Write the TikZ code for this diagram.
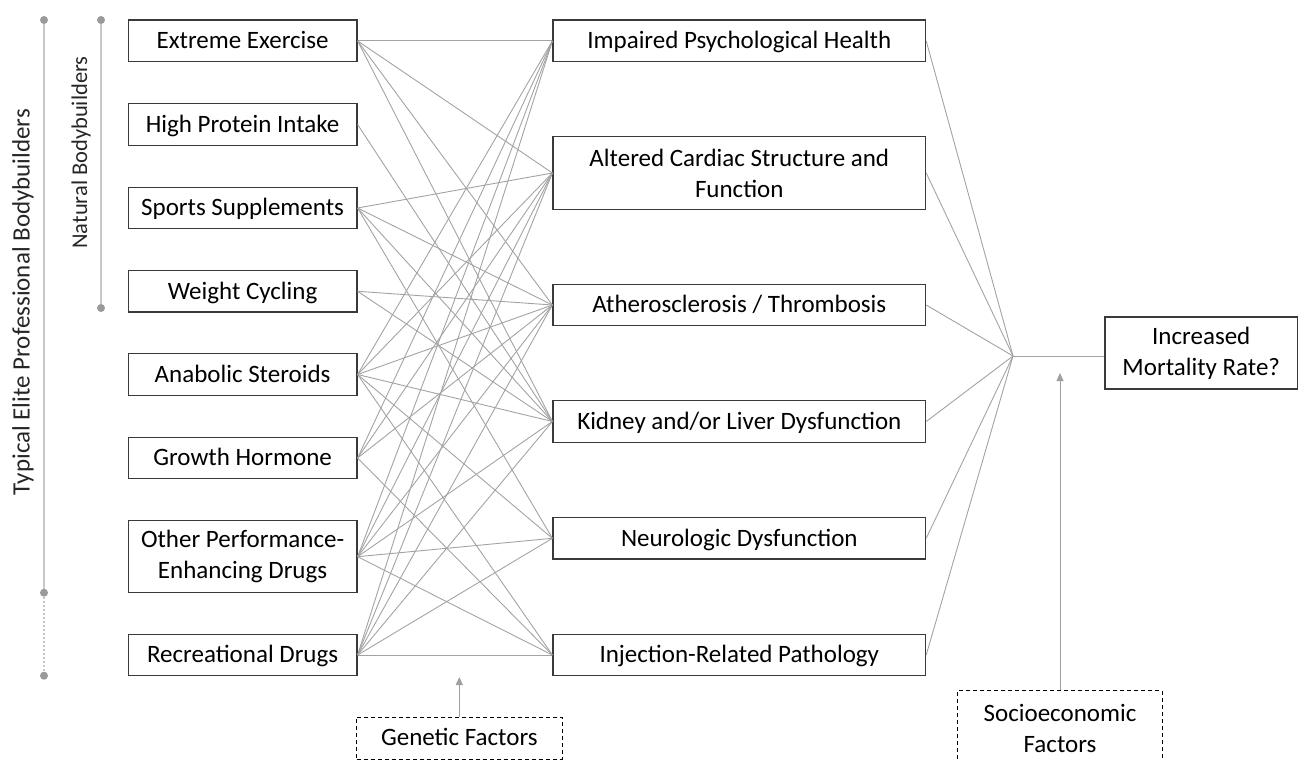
\documentclass[tikz,border=0pt]{standalone}
\usepackage{fontspec}
\setmainfont{Carlito}
\usetikzlibrary{arrows.meta}
\definecolor{boxc}{HTML}{3A3A3A}
\definecolor{connc}{HTML}{A3A3A3}
\definecolor{bracc}{HTML}{C8C8C8}
\definecolor{dotc}{HTML}{9A9A9A}
\definecolor{arrc}{HTML}{A0A0A0}
\begin{document}
\begin{tikzpicture}[x=1pt,y=-1pt,
  txt/.style={font=\fontsize{25}{31}\selectfont},
  box/.style={txt, draw=boxc, line width=1.3pt, minimum height=41.5pt, inner sep=0pt, align=center},
  one/.style={text height=15.8pt, text depth=0pt},
  lbox/.style={box, minimum width=228.7pt},
  mbox/.style={box, minimum width=372.5pt},
  conn/.style={draw=connc, line width=0.9pt},
  dbox/.style={txt, draw=black, dashed, dash pattern=on 4pt off 3pt, line width=0.9pt, inner sep=0pt, align=center},
  arr/.style={draw=arrc, line width=0.9pt, -{Triangle[length=8pt,width=7pt]}},
  brac/.style={draw=bracc, line width=1.8pt},
  dotm/.style={fill=dotc}
  ]
\useasboundingbox (0,0) rectangle (1298,760);

% left column
\node[lbox, one] (ee) at (242.6,40.9) {Extreme Exercise};
\node[lbox, one] (hp) at (242.6,124.5) {High Protein Intake};
\node[lbox, one] (ss) at (242.6,208) {Sports Supplements};
\node[lbox, one] (wc) at (242.6,291.3) {Weight Cycling};
\node[lbox, one] (as) at (242.6,374.5) {Anabolic Steroids};
\node[lbox, one] (gh) at (242.6,458) {Growth Hormone};
\node[lbox, minimum height=72pt] (op) at (242.6,556.7) {Other Performance-\\Enhancing Drugs};
\node[lbox, one] (rd) at (242.6,655) {Recreational Drugs};

% middle column
\node[mbox, one] (ps) at (739.3,40.9) {Impaired Psychological Health};
\node[mbox, minimum height=72.6pt] (cs) at (739.3,173) {Altered Cardiac Structure and\\Function};
\node[mbox, one] (at) at (739.3,305) {Atherosclerosis / Thrombosis};
\node[mbox, one] (kl) at (739.3,421.5) {Kidney and/or Liver Dysfunction};
\node[mbox, one] (nd) at (739.3,538.3) {Neurologic Dysfunction};
\node[mbox, one] (ip) at (739.3,655) {Injection-Related Pathology};

% outcome
\node[box, minimum width=192.5pt, minimum height=72pt] (mo) at (1201.25,353) {Increased\\Mortality Rate?};
\coordinate (hub) at (1013,356);

% modifiers
\node[dbox, one, minimum width=205.3pt, minimum height=42pt] (gf) at (459.3,738) {Genetic Factors};
\coordinate (gtip) at (459.3,677);
\node[dbox, minimum width=204.3pt, minimum height=80pt] (sf) at (1060,730.7) {};
\node[txt, align=center] (sft) at (1060,728) {Socioeconomic\\Factors};
\coordinate (stip) at (1060,373);

% connectors left -> middle
\foreach \a/\b in {ee/ps, ee/cs, ee/at, ee/kl,
  hp/kl,
  ss/cs, ss/at, ss/kl, ss/nd,
  wc/at, wc/kl,
  as/ps, as/cs, as/at, as/kl, as/nd, as/ip,
  gh/ps, gh/cs, gh/at, gh/ip,
  op/ps, op/cs, op/at, op/kl, op/nd, op/ip,
  rd/ps, rd/cs, rd/at, rd/kl, rd/nd, rd/ip}
  \draw[conn] (\a.east) -- (\b.west);

% connectors middle -> hub -> outcome
\foreach \b in {ps,cs,at,kl,nd,ip}
  \draw[conn] (\b.east) -- (hub);
\draw[conn] (hub) -- (hub -| mo.west);

% modifier arrows
\draw[arr] (gf.north) -- (gtip);
\draw[arr] (sf.north) -- (stip);

% brackets
\draw[brac] (44,20) -- (44,592.7);
\draw[brac, line width=1.2pt, dash pattern=on 2pt off 2pt] (44,592.7) -- (44,675.7);
\fill[dotm] (44,20) circle (4);
\fill[dotm] (44,592.7) circle (4);
\fill[dotm] (44,675.7) circle (4);
\draw[brac] (101,20) -- (101,308);
\fill[dotm] (101,20) circle (4);
\fill[dotm] (101,308) circle (4);

\node[txt, rotate=90, text=black!85] (lab1) at (23,302) {Typical Elite Professional Bodybuilders};
\node[font=\fontsize{22.5}{27}\selectfont, rotate=90, text=black!85] (lab2) at (81,152.5) {Natural Bodybuilders};
\end{tikzpicture}
\end{document}
